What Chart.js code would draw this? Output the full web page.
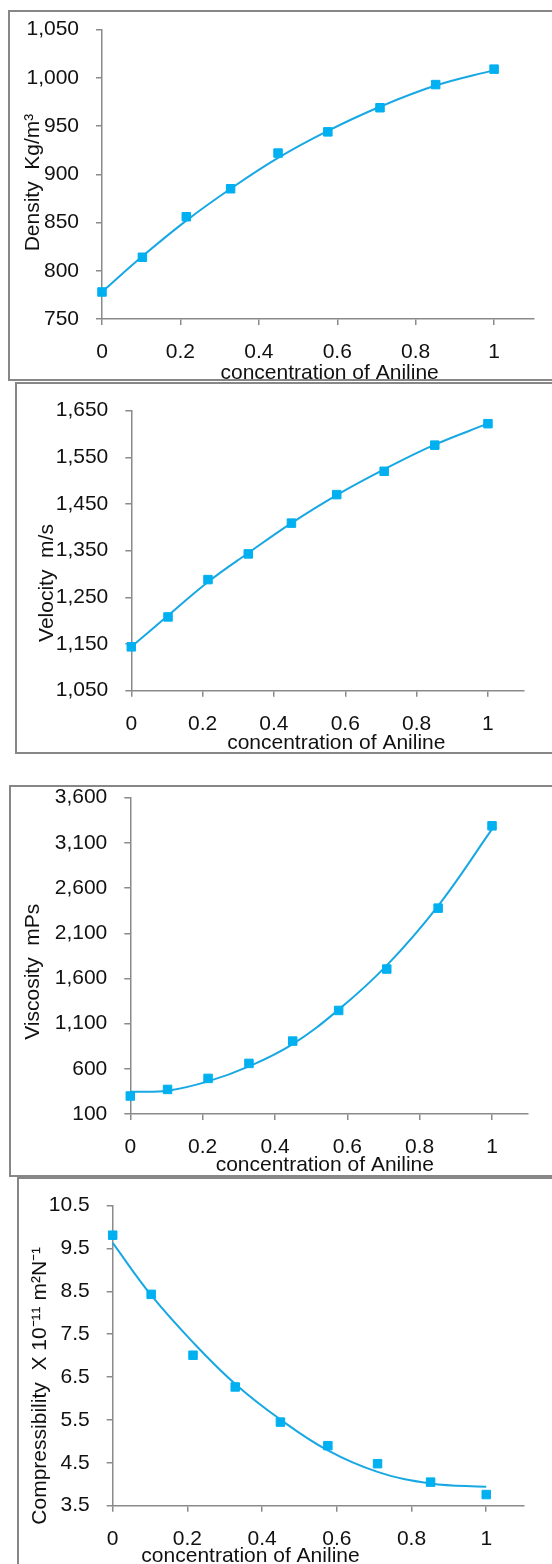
<!DOCTYPE html>
<html>
<head>
<meta charset="utf-8">
<script src="https://cdn.jsdelivr.net/npm/chart.js@4.4.1/dist/chart.umd.min.js"></script>
<style>
  html, body { margin: 0; padding: 0; background: #fff; }
  body { width: 552px; height: 1564px; position: relative; overflow: hidden; }
  .box { position: absolute; box-sizing: border-box; border: 2px solid #878787; width: 620px; }
  canvas { position: absolute; left: 0; }
</style>
</head>
<body>
<div class="box" style="left:8px;top:10px;height:371px"></div>
<div class="box" style="left:15px;top:382px;height:372px"></div>
<div class="box" style="left:8.5px;top:785px;height:392px"></div>
<div class="box" style="left:16.5px;top:1177px;height:420px"></div>

<canvas id="density"         style="top:0px"    width="552" height="381"></canvas>
<canvas id="velocity"        style="top:381px"  width="552" height="373"></canvas>
<canvas id="viscosity"       style="top:756px"  width="552" height="422"></canvas>
<canvas id="compressibility" style="top:1176px" width="552" height="388"></canvas>

<script>
// ─── Data ─────────────────────────────────────────────────────────────────────

const concentration = [0, 0.103, 0.215, 0.328, 0.449, 0.576, 0.709, 0.851, 1];
const xTicks = [0, 0.2, 0.4, 0.6, 0.8, 1];
const X_MAX = 1.1;

// measured points + the fitted trend curve read at the same x positions
const density       = [778, 814, 856, 885, 922, 944, 969, 993, 1009];
const densityTrend  = [778, 815, 852, 885, 917, 945, 970, 992, 1008];
const densityTicks  = [750, 800, 850, 900, 950, 1000, 1050];

const velocity      = [1144, 1208, 1288, 1343, 1409, 1470, 1520, 1576, 1622];
const velocityTrend = [1144, 1211, 1283, 1345, 1409, 1469, 1524, 1577, 1622];
const velocityTicks = [1050, 1150, 1250, 1350, 1450, 1550, 1650];

const viscosity      = [299, 372, 494, 660, 907, 1246, 1704, 2378, 3289];
const viscosityTrend = [345, 358, 461, 627, 874, 1255, 1745, 2404, 3252];
const viscosityTicks = [100, 600, 1100, 1600, 2100, 2600, 3100, 3600];

const compressibility      = [9.81, 8.43, 7.01, 6.27, 5.45, 4.90, 4.48, 4.05, 3.76];
const compressibilityTrend = [9.63, 8.41, 7.31, 6.34, 5.51, 4.79, 4.29, 4.02, 3.94];
const compressibilityTicks = [3.5, 4.5, 5.5, 6.5, 7.5, 8.5, 9.5, 10.5];

// ─── Shared styling ───────────────────────────────────────────────────────────

const COLORS = {
  marker: '#00b0f0',
  line:   '#17a8e3',
  axis:   '#8a8a8a',
  text:   '#111',
};
const FONT = { family: "'Liberation Sans', Arial, sans-serif", size: 21 };

Chart.defaults.font  = FONT;
Chart.defaults.color = COLORS.text;

// axis titles placed at fixed pixel spots, like the Excel original
const axisTitles = {
  id: 'axisTitles',
  afterDraw(chart, args, opts) {
    const { ctx } = chart;
    ctx.save();
    ctx.font = `${FONT.size}px ${FONT.family}`;
    ctx.fillStyle = COLORS.text;
    ctx.textAlign = 'center';
    ctx.textBaseline = 'middle';
    ctx.fillText(opts.x.text, opts.x.cx, opts.x.cy);
    ctx.translate(opts.y.cx, opts.y.cy);
    ctx.rotate(-Math.PI / 2);
    ctx.fillText(opts.y.text, 0, 0);
    ctx.restore();
  },
};

const pts = arr => arr.map((y, i) => ({ x: concentration[i], y }));

function makeChart(id, { values, trend, yTicks, yFmt, area, xTitle, yTitle }) {
  const canvas = document.getElementById(id);
  const H = canvas.height;

  const datasets = [
    {
      data: pts(values),
      showLine: false,
      clip: false,
      pointStyle: 'rect',
      pointRadius: 6,
      pointBorderWidth: 1,
      pointBackgroundColor: COLORS.marker,
      pointBorderColor: COLORS.marker,
    },
    {
      data: pts(trend),
      showLine: true,
      clip: false,
      borderColor: COLORS.line,
      borderWidth: 2,
      tension: 0.4,
      pointRadius: 0,
    },
  ];

  return new Chart(canvas, {
    type: 'scatter',
    data: { datasets },
    plugins: [axisTitles],
    options: {
      responsive: false,
      animation: false,
      locale: 'en-US',
      layout: { padding: { left: 0, top: area.top, right: 552 - area.right, bottom: 0 } },
      plugins: {
        legend: { display: false },
        tooltip: { enabled: false },
        axisTitles: { x: xTitle, y: yTitle },
      },
      scales: {
        x: {
          type: 'linear',
          min: 0,
          max: X_MAX,
          afterBuildTicks: axis => { axis.ticks = xTicks.map(value => ({ value })); },
          afterFit: scale => { scale.height = H - area.bottom; },
          grid: { drawOnChartArea: false, drawTicks: true, tickLength: 6, color: COLORS.axis, lineWidth: 1.5 },
          border: { color: COLORS.axis, width: 1.5 },
          ticks: { padding: 15, maxRotation: 0, autoSkip: false, callback: v => String(v) },
        },
        y: {
          type: 'linear',
          min: yTicks[0],
          max: yTicks[yTicks.length - 1],
          afterBuildTicks: axis => { axis.ticks = yTicks.map(value => ({ value })); },
          afterFit: scale => { scale.width = area.left; },
          grid: { drawOnChartArea: false, drawTicks: true, tickLength: 6, color: COLORS.axis, lineWidth: 1.5 },
          border: { color: COLORS.axis, width: 1.5 },
          ticks: { padding: 17, autoSkip: false, callback: yFmt },
        },
      },
    },
  });
}

const thousands = v => v.toLocaleString('en-US');
const oneDecimal = v => v.toFixed(1);
const X_LABEL = 'concentration of Aniline';

// ─── Charts ───────────────────────────────────────────────────────────────────

makeChart('density', {
  values: density,
  trend: densityTrend,
  yTicks: densityTicks,
  yFmt: thousands,
  area: { left: 102, top: 22.7, right: 533.3, bottom: 319 },
  xTitle: { text: X_LABEL, cx: 329.6, cy: 373 },
  yTitle: { text: 'Density  Kg/m³', cx: 33.5, cy: 182.5 },
});

makeChart('velocity', {
  values: velocity,
  trend: velocityTrend,
  yTicks: velocityTicks,
  yFmt: thousands,
  area: { left: 131.3, top: 14, right: 523.6, bottom: 309.7 },
  xTitle: { text: X_LABEL, cx: 336.3, cy: 362.3 },
  yTitle: { text: 'Velocity  m/s', cx: 47.5, cy: 202 },
});

makeChart('viscosity', {
  values: viscosity,
  trend: viscosityTrend,
  yTicks: viscosityTicks,
  yFmt: thousands,
  area: { left: 130.3, top: 41.7, right: 528.2, bottom: 358 },
  xTitle: { text: X_LABEL, cx: 324.8, cy: 409 },
  yTitle: { text: 'Viscosity  mPs', cx: 33.5, cy: 215.7 },
});

makeChart('compressibility', {
  values: compressibility,
  trend: compressibilityTrend,
  yTicks: compressibilityTicks,
  yFmt: oneDecimal,
  area: { left: 112.7, top: 14, right: 523.6, bottom: 329.7 },
  xTitle: { text: X_LABEL, cx: 250.5, cy: 380.7 },
  yTitle: { text: 'Compressibility  X 10⁻¹¹ m²N⁻¹', cx: 40.5, cy: 209.8 },
});
</script>
</body>
</html>
